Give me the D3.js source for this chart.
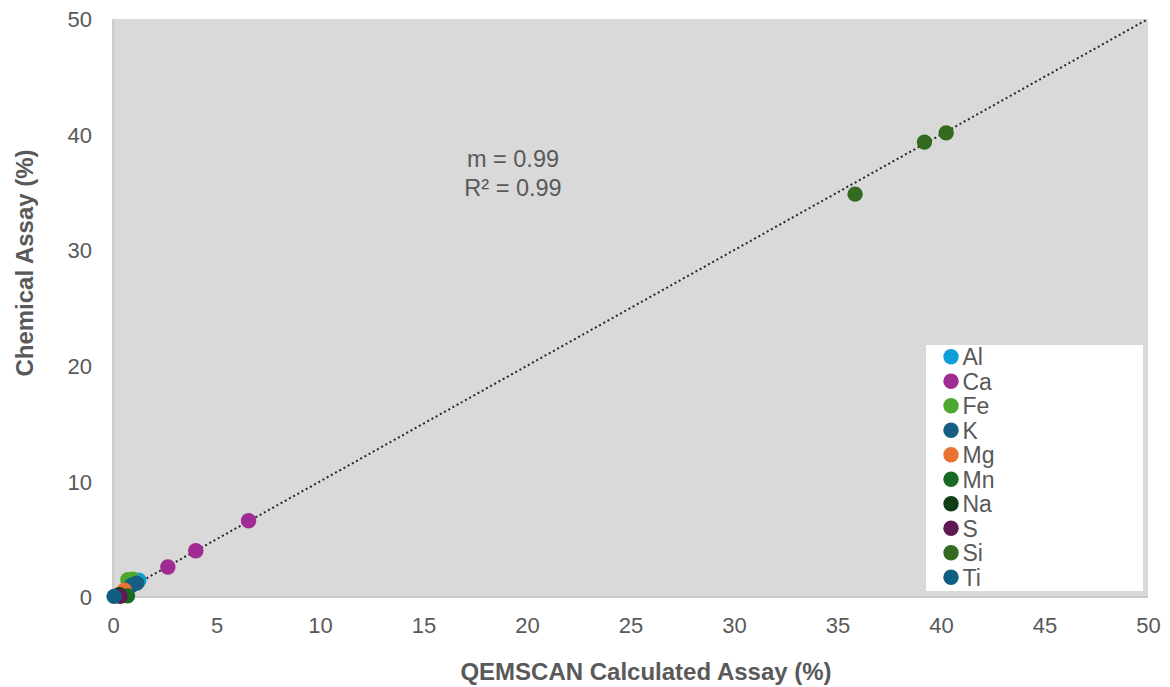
<!DOCTYPE html>
<html><head><meta charset="utf-8">
<script src="https://cdn.jsdelivr.net/npm/d3@7"></script>
<style>body{margin:0;background:#fff;}svg{display:block;font-family:"Liberation Sans",Arial,sans-serif;}</style>
</head><body><svg id="c" width="1170" height="687"></svg>
<script>
const seriesNames = ["Al","Ca","Fe","K","Mg","Mn","Na","S","Si","Ti"];
const seriesColors = ["#0f9fd8","#a02b93","#4ea72e","#145f82","#e97132","#196b24","#0e3d16","#5f1a54","#326a1f","#0f5f82"];
const Al = [[1.25,1.45]];
const Ca = [[2.65,2.6],[4.0,4.0],[6.55,6.6]];
const Fe = [[0.72,1.5],[0.95,1.55]];
const K  = [[1.15,1.2],[0.9,1.02]];
const Mg = [[0.55,0.58]];
const Mn = [[0.7,0.1]];
const Na = [[0.3,0.2]];
const S  = [[0.35,0.05]];
const Si = [[35.85,34.85],[39.2,39.35],[40.25,40.15]];
const Ti = [[0.05,0.05]];
const seriesData = [Al,Ca,Fe,K,Mg,Mn,Na,S,Si,Ti];
const trend = [[0,0],[50,50]];
const xTicks = [0,5,10,15,20,25,30,35,40,45,50];
const yTicks = [0,10,20,30,40,50];
const annot = ["m = 0.99","R\u00b2 = 0.99"];

const svg = d3.select("#c");
const L=113,R=1148,T=19,B=597;
const x = d3.scaleLinear().domain([0,50]).range([L,R]);
const y = d3.scaleLinear().domain([0,50]).range([B,T]);
const txt="#595959";
const ff="Liberation Sans, Arial, sans-serif";

svg.append("rect").attr("x",L).attr("y",T).attr("width",R-L).attr("height",B-T).attr("fill","#d9d9d9");
svg.append("line").attr("x1",L).attr("x2",L).attr("y1",T).attr("y2",B).attr("stroke","#bfbfbf").attr("stroke-width",1.5);
svg.append("line").attr("x1",L).attr("x2",R).attr("y1",B).attr("y2",B).attr("stroke","#bfbfbf").attr("stroke-width",1.5);

const xa = svg.append("g").attr("transform",`translate(0,${B})`).call(d3.axisBottom(x).tickValues(xTicks).tickSize(0));
xa.select(".domain").remove();
xa.selectAll("text").attr("y",36).attr("dy",null).attr("font-size",22).attr("fill",txt).attr("font-family",ff);
const ya = svg.append("g").attr("transform",`translate(${L},0)`).call(d3.axisLeft(y).tickValues(yTicks).tickSize(0));
ya.select(".domain").remove();
ya.selectAll("text").attr("x",-21).attr("dy","0.35em").attr("font-size",22).attr("fill",txt).attr("font-family",ff);

svg.append("path").datum(trend).attr("d",d3.line().x(d=>x(d[0])).y(d=>y(d[1])))
  .attr("stroke","#262626").attr("stroke-width",2).attr("stroke-dasharray","2,2.8").attr("fill","none");

seriesData.forEach((data,i)=>{
  svg.append("g").selectAll("circle").data(data).join("circle")
    .attr("cx",d=>x(d[0])).attr("cy",d=>y(d[1])).attr("r",7.7).attr("fill",seriesColors[i]);
});

annot.forEach((t,i)=>{
  svg.append("text").attr("x",513).attr("y",167+i*29).attr("text-anchor","middle")
    .attr("font-size",23.5).attr("fill",txt).text(t);
});

svg.append("text").attr("x",646).attr("y",680).attr("text-anchor","middle")
  .attr("font-size",24).attr("font-weight","bold").attr("fill",txt).text("QEMSCAN Calculated Assay (%)");
svg.append("text").attr("transform",`translate(33,263) rotate(-90)`).attr("text-anchor","middle")
  .attr("font-size",24).attr("font-weight","bold").attr("fill",txt).text("Chemical Assay (%)");

const lg = svg.append("g");
lg.append("rect").attr("x",926).attr("y",345).attr("width",217).attr("height",246).attr("fill","#fff");
seriesNames.forEach((n,i)=>{
  const cy = 356.7+i*24.5;
  lg.append("circle").attr("cx",951).attr("cy",cy).attr("r",7.7).attr("fill",seriesColors[i]);
  lg.append("text").attr("x",962.5).attr("y",cy+8.3).attr("font-size",23).attr("fill",txt).text(n);
});
</script></body></html>
